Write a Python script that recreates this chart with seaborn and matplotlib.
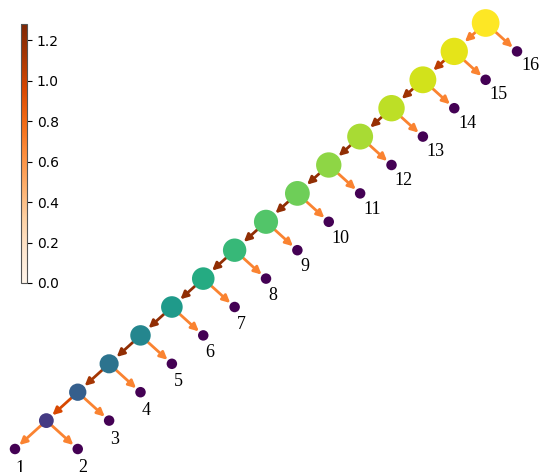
import numpy as np
import pandas as pd
import matplotlib
matplotlib.use("Agg")
import matplotlib.pyplot as plt
import seaborn as sns
from matplotlib.patches import FancyArrowPatch
from matplotlib.cm import ScalarMappable
from matplotlib.colors import Normalize

# ---- data ----
leaf_labels = [str(i) for i in range(1, 17)]
# merges: (left child, right child); leaves are "L1".."L16", internal "N1".."N15"
merge_left = ["L1"] + [f"N{k}" for k in range(1, 15)]
merge_right = ["L2"] + [f"L{k}" for k in range(3, 17)]
# colour value (viridis) of each internal node N1..N15
node_value = [0.17, 0.30, 0.38, 0.46, 0.54, 0.61, 0.67, 0.73, 0.78, 0.83,
              0.87, 0.90, 0.93, 0.96, 1.00]
# edge weights (Oranges colour scale): parent->left child, parent->right child
left_edge_value = [0.68, 0.96, 1.12, 1.20, 1.20, 1.20, 1.20, 1.20, 1.20, 1.20,
                   1.20, 1.18, 1.15, 1.05, 0.70]
right_edge_value = [0.68] * 15
edge_vmax = 1.28

# ---- build tree ----
children = {}
for k in range(15):
    children[f"N{k+1}"] = (merge_left[k], merge_right[k])
root = "N15"

counts = {}
def count(n):
    if n.startswith("L"):
        counts[n] = 1
    else:
        counts[n] = sum(count(c) for c in children[n])
    return counts[n]
count(root)

pos = {}
def layout(n, x, y):
    pos[n] = (x, y)
    if n in children:
        l, r = children[n]
        layout(l, x - 1, y - 1)
        layout(r, x + 1, y - 1)
layout(root, 0, 0)

val = {f"N{k+1}": node_value[k] for k in range(15)}
for i in range(1, 17):
    val[f"L{i}"] = 0.0

names = list(pos.keys())
df = pd.DataFrame({
    "name": names,
    "x": [pos[n][0] for n in names],
    "y": [pos[n][1] for n in names],
    "value": [val[n] for n in names],
    "count": [counts[n] for n in names],
})
px2pt = 0.72
df["diam_px"] = 10.5 + 4.3 * np.log2(df["count"])
df["area"] = (df["diam_px"] * px2pt) ** 2

# ---- figure ----
fig = plt.figure(figsize=(5.43, 4.72), dpi=100)
ax = fig.add_axes([0, 0, 1, 1])
ax.set_axis_off()

# edges
ecmap = plt.get_cmap("Oranges")
enorm = Normalize(0, edge_vmax)
radius_pt = {n: d * px2pt / 2 for n, d in zip(df["name"], df["diam_px"])}
for k in range(15):
    p = f"N{k+1}"
    for child, ev in ((merge_left[k], left_edge_value[k]), (merge_right[k], right_edge_value[k])):
        arr = FancyArrowPatch(pos[p], pos[child], arrowstyle="-|>", mutation_scale=11,
                              lw=2.0, color=ecmap(enorm(ev)),
                              shrinkA=radius_pt[p], shrinkB=radius_pt[child] + 0.5,
                              zorder=1)
        ax.add_patch(arr)

sns.scatterplot(data=df, x="x", y="y", hue="value", palette="viridis", hue_norm=(0, 1),
                size="area", sizes=(df["area"].min(), df["area"].max()),
                size_norm=(df["area"].min(), df["area"].max()),
                linewidth=0, legend=False, ax=ax, zorder=2)
ax.set_axis_off()

nlab = len(leaf_labels)
for i, lab in enumerate(leaf_labels):
    x, y = pos[f"L{i+1}"]
    f = i / (nlab - 1)
    ax.annotate(lab, xy=(x, y), xytext=(0.5 + 2.5 * f, -7.6 + 3.4 * f),
                textcoords="offset points",
                ha="left", va="top", fontsize=13, family="Liberation Serif")

ax.set_xlim(-15 - 15 / 31.4, 1 + 26 / 31.4)
ax.set_ylim(-15 - 23 / 28.4, 0 + 23 / 28.4)

# colorbar
cax = fig.add_axes([21 / 543, 1 - 283 / 472, 6 / 543, 259 / 472])
sm = ScalarMappable(norm=enorm, cmap=ecmap)
cb = fig.colorbar(sm, cax=cax, ticks=[0, 0.2, 0.4, 0.6, 0.8, 1.0, 1.2])
cb.ax.tick_params(labelsize=10)
cb.outline.set_edgecolor("#555555")

fig.savefig("out.png", dpi=100)
